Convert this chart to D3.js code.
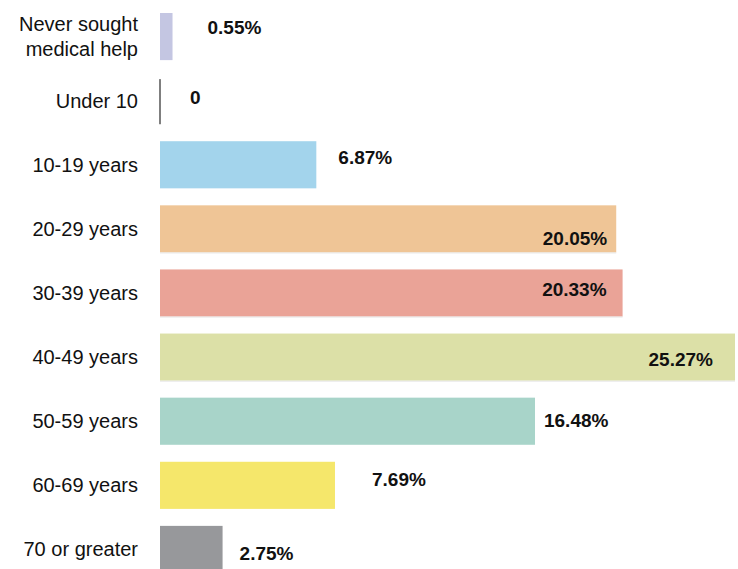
<!DOCTYPE html>
<html>
<head>
<meta charset="utf-8">
<script src="https://cdn.jsdelivr.net/npm/d3@7"></script>
<style>
  body { margin: 0; background: #fff; }
  svg { display: block; font-family: "Liberation Sans", Arial, Helvetica, sans-serif; }
</style>
</head>
<body>
<div id="chart"></div>
<script>
// data
var categories = ["Never sought|medical help", "Under 10", "10-19 years", "20-29 years", "30-39 years",
                  "40-49 years", "50-59 years", "60-69 years", "70 or greater"];
var values = [0.55, 0, 6.87, 20.05, 20.33, 25.27, 16.48, 7.69, 2.75];
var valueLabels = ["0.55%", "0", "6.87%", "20.05%", "20.33%", "25.27%", "16.48%", "7.69%", "2.75%"];
var colors = ["#c4c6e2", "#555555", "#a3d4ec", "#efc596", "#eaa397", "#dce0a7", "#a8d4c9", "#f5e76b", "#97989b"];

// label placement quirks of the original (inside = drawn inside the bar end)
var labelInside = [false, false, false, true, true, true, false, false, false];
var labelDx = [35, 30, 22, 9, 16, 22, 9, 37, 17];
var labelDy = [-9, -3, -7, 9, -4, 2, -1, -6, 4];

var svgWidth = 738;
var svgHeight = 569;

var svg = d3.select('#chart').append('svg')
    .attr('width', svgWidth)
    .attr('height', svgHeight);

var rows = categories.map((c, i) => ({
    cat: c, value: values[i], label: valueLabels[i], color: colors[i],
    inside: labelInside[i], dx: labelDx[i], dy: labelDy[i]
}));

// scales
var xScale = d3.scaleLinear().domain([0, 25.27]).range([160, 735]);
var yScale = d3.scaleBand().domain(categories).range([13, 573]).paddingInner(0.265).paddingOuter(0);

// bars (zero value shown as a thin dark rule)
svg.selectAll('rect.bar')
    .data(rows)
    .enter()
    .append('rect')
    .attr('class', 'bar')
    .attr('x', d => d.value === 0 ? xScale(0) - 0.75 : xScale(0))
    .attr('y', d => d.value === 0 ? yScale(d.cat) + 2 : yScale(d.cat))
    .attr('width', d => d.value === 0 ? 1.5 : xScale(d.value) - xScale(0))
    .attr('height', d => d.value === 0 ? yScale.bandwidth() - 2 : yScale.bandwidth())
    .attr('fill', d => d.color);

// faint rule under the long bars, as in the original
svg.selectAll('line.under')
    .data(rows.filter(d => d.value > 18 && d.value < 26 && d.inside))
    .enter()
    .append('line')
    .attr('class', 'under')
    .attr('x1', xScale(0))
    .attr('x2', d => xScale(d.value))
    .attr('y1', d => yScale(d.cat) + yScale.bandwidth() + 0.5)
    .attr('y2', d => yScale(d.cat) + yScale.bandwidth() + 0.5)
    .attr('stroke', '#e6e6e6')
    .attr('stroke-width', 1);

// category labels on the left
var catText = svg.selectAll('text.cat')
    .data(rows)
    .enter()
    .append('text')
    .attr('class', 'cat')
    .attr('text-anchor', 'end')
    .attr('font-size', '20px')
    .attr('fill', '#111');

catText.each(function(d) {
    var lines = d.cat.split('|');
    var cy = yScale(d.cat) + yScale.bandwidth() / 2;
    var t = d3.select(this);
    lines.forEach((ln, j) => {
        t.append('tspan')
            .attr('x', 138)
            .attr('y', cy + (j - (lines.length - 1) / 2) * 25)
            .attr('dy', '0.35em')
            .text(ln);
    });
});

// value labels
svg.selectAll('text.val')
    .data(rows)
    .enter()
    .append('text')
    .attr('class', 'val')
    .attr('font-size', '19px')
    .attr('font-weight', 'bold')
    .attr('fill', '#111')
    .attr('text-anchor', d => d.inside ? 'end' : 'start')
    .attr('x', d => d.inside ? xScale(d.value) - d.dx : xScale(d.value) + d.dx)
    .attr('y', d => yScale(d.cat) + yScale.bandwidth() / 2 + d.dy)
    .attr('dy', '0.35em')
    .text(d => d.label);
</script>
</body>
</html>
